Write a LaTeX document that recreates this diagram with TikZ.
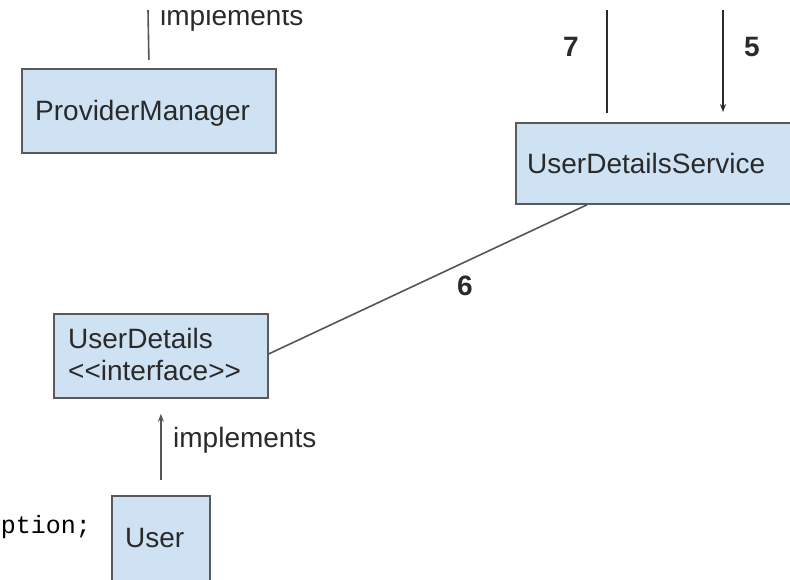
\documentclass[tikz,border=0pt]{standalone}
\usepackage{fontspec}
\setmainfont{Liberation Sans}
\setmonofont{Liberation Mono}
\usetikzlibrary{arrows.meta,calc}
\definecolor{boxfill}{HTML}{CFE2F3}
\definecolor{boxline}{HTML}{5A5A5A}
\definecolor{ink}{HTML}{2A2A2A}
\definecolor{wire}{HTML}{555555}
\begin{document}
\begin{tikzpicture}[x=1pt,y=-1pt,
  classbox/.style={draw=boxline, line width=1.8pt, fill=boxfill, inner sep=0pt, anchor=north west},
  lbl/.style={text=ink, font=\fontsize{28}{32}\selectfont, inner sep=0pt, anchor=base west},
  num/.style={text=ink, font=\fontsize{28}{32}\selectfont\bfseries, inner sep=0pt, anchor=base west},
  code/.style={text=black, font=\ttfamily\fontsize{25}{30}\selectfont, inner sep=0pt, anchor=base east},
  link/.style={draw=wire, line width=1.6pt},
  tip/.style={-{Stealth[length=8pt,width=6pt]}}]
\useasboundingbox (0,0) rectangle (790,579);
\clip (0,10) rectangle (790,579);

% class boxes
\node[classbox, minimum width=254pt, minimum height=84pt] (pm) at (21,68) {};
\node[classbox, minimum width=300pt, minimum height=81pt] (uds) at (515,122) {};
\node[classbox, minimum width=214pt, minimum height=84pt] (ud) at (53,313) {};
\node[classbox, minimum width=98pt, minimum height=100pt] (user) at (111,495) {};

% box titles
\node[lbl] (pmname) at (35,120) {ProviderManager};
\node[lbl] (udsname) at (527,173) {UserDetailsService};
\node[lbl] (udname) at (68,348) {UserDetails};
\node[lbl] (udstereo) at (68,380) {<{}<interface>{}>};
\node[lbl] (username) at (125,547) {User};

% code fragment on the left
\node[code] (codetail) at (91,533) {ption;};

% connector ends leaving the picture at the top
\coordinate (pmup) at (148,10);
\coordinate (up7) at (607,10);
\coordinate (up5) at (723,10);

% connectors
\draw[link] (pmup) -- ($(pm.north)+(0,-8)$);
\node[lbl] (impl1) at (160,25) {implements};

\draw[link, draw=ink] (up7) -- ($(up7 |- uds.north)+(0,-9)$);
\node[num] (n7) at (563,56) {7};

\draw[link, draw=ink, tip] (up5) -- ($(up5 |- uds.north)+(0,-10)$);
\node[num] (n5) at (744,56) {5};

\draw[link] ($(uds.south west)+(72,0)$) -- ($(ud.east)+(0,-2)$);
\node[num] (n6) at (457,295) {6};

\draw[link, tip] ($(user.north)+(0,-15)$) -- ($(ud.south)+(0,15)$);
\node[lbl] (impl2) at (173,447) {implements};
\end{tikzpicture}
\end{document}
